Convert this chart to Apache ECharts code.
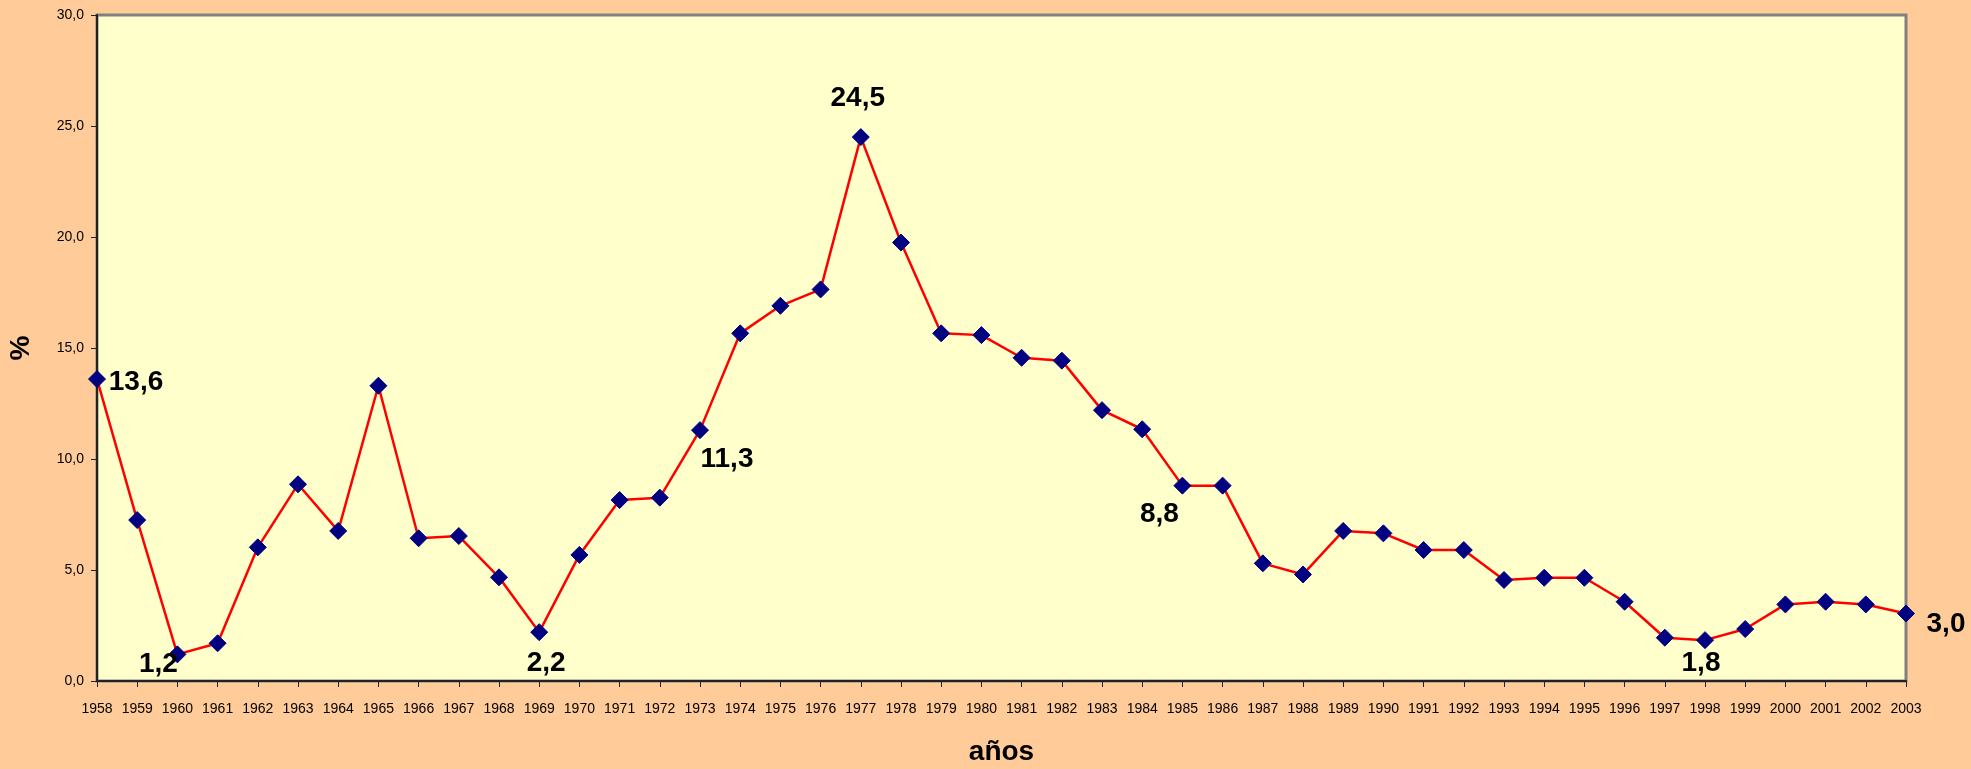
<!DOCTYPE html>
<html>
<head>
<meta charset="utf-8">
<script src="https://cdn.jsdelivr.net/npm/echarts@6/dist/echarts.min.js"></script>
<style>
html,body{margin:0;padding:0;background:#FFCC99;}
#chart{width:1971px;height:769px;}
</style>
</head>
<body>
<div id="chart"></div>
<script>
const years = ['1958','1959','1960','1961','1962','1963','1964','1965','1966','1967','1968','1969','1970','1971','1972','1973','1974','1975','1976','1977','1978','1979','1980','1981','1982','1983','1984','1985','1986','1987','1988','1989','1990','1991','1992','1993','1994','1995','1996','1997','1998','1999','2000','2001','2002','2003'];
const values = [13.6,7.25,1.2,1.7,6.02,8.86,6.76,13.3,6.43,6.53,4.67,2.2,5.68,8.15,8.26,11.3,15.66,16.9,17.64,24.5,19.75,15.66,15.58,14.56,14.43,12.2,11.34,8.8,8.8,5.3,4.8,6.76,6.65,5.9,5.9,4.55,4.65,4.65,3.57,1.95,1.84,2.34,3.45,3.57,3.45,3.04];
const labelledYears = ['1958','1960','1969','1973','1977','1985','1998','2003'];
const yTicks = [0,5,10,15,20,25,30];

// label placement (styling only)
const labelOffsets = {
  '1958': [39, 3],
  '1960': [-19, 10],
  '1969': [7, 31],
  '1973': [27, 29],
  '1977': [-3, -39],
  '1985': [-23, 29],
  '1998': [-4, 23],
  '2003': [40, 11]
};

const fmt = v => v.toFixed(1).replace('.', ',');

const seriesData = values.map((v, i) => {
  const y = years[i];
  if (labelledYears.indexOf(y) >= 0) {
    return {
      value: v,
      label: {
        show: true,
        position: 'inside',
        offset: labelOffsets[y],
        align: 'center',
        verticalAlign: 'middle',
        formatter: p => fmt(p.value),
        fontFamily: 'Liberation Sans, Arial, sans-serif',
        fontWeight: 'bold',
        fontSize: 28,
        color: '#000'
      }
    };
  }
  return v;
});

const chart = echarts.init(document.getElementById('chart'), null, {renderer: 'canvas'});
chart.setOption({
  backgroundColor: '#FFCC99',
  animation: false,
  grid: {
    left: 97, right: 65, top: 15, bottom: 88,
    containLabel: false,
    outerBoundsMode: 'none',
    show: true,
    backgroundColor: '#FFFFCC',
    borderColor: '#808080',
    borderWidth: 3
  },
  xAxis: {
    type: 'category',
    data: years,
    boundaryGap: false,
    name: 'años',
    nameLocation: 'middle',
    nameGap: 57,
    nameMoveOverlap: false,
    nameTextStyle: {fontFamily: 'Liberation Sans, Arial, sans-serif', fontWeight: 'bold', fontSize: 28, color: '#000'},
    axisLine: {show: true, lineStyle: {color: '#222', width: 2}},
    axisTick: {show: true, inside: false, length: 6, interval: 0, lineStyle: {color: '#222', width: 1}},
    axisLabel: {interval: 0, margin: 21, fontFamily: 'Liberation Sans, Arial, sans-serif', fontSize: 14, color: '#000'},
    splitLine: {show: false}
  },
  yAxis: {
    type: 'value',
    min: yTicks[0],
    max: yTicks[yTicks.length - 1],
    interval: 5,
    name: '%',
    nameLocation: 'middle',
    nameGap: 62,
    nameRotate: 90,
    nameMoveOverlap: false,
    nameTextStyle: {fontFamily: 'Liberation Sans, Arial, sans-serif', fontWeight: 'bold', fontSize: 28, color: '#000'},
    axisLine: {show: true, lineStyle: {color: '#222', width: 2}},
    axisTick: {show: true, inside: false, length: 6, lineStyle: {color: '#222', width: 1}},
    axisLabel: {margin: 13, fontFamily: 'Liberation Sans, Arial, sans-serif', fontSize: 14, color: '#000', formatter: v => fmt(v)},
    splitLine: {show: false}
  },
  series: [{
    type: 'line',
    data: seriesData,
    symbol: 'diamond',
    symbolSize: 17,
    showAllSymbol: true,
    itemStyle: {color: '#000080', borderColor: '#000080'},
    lineStyle: {color: '#FF0000', width: 2.5},
    z: 3
  }]
});
</script>
</body>
</html>
